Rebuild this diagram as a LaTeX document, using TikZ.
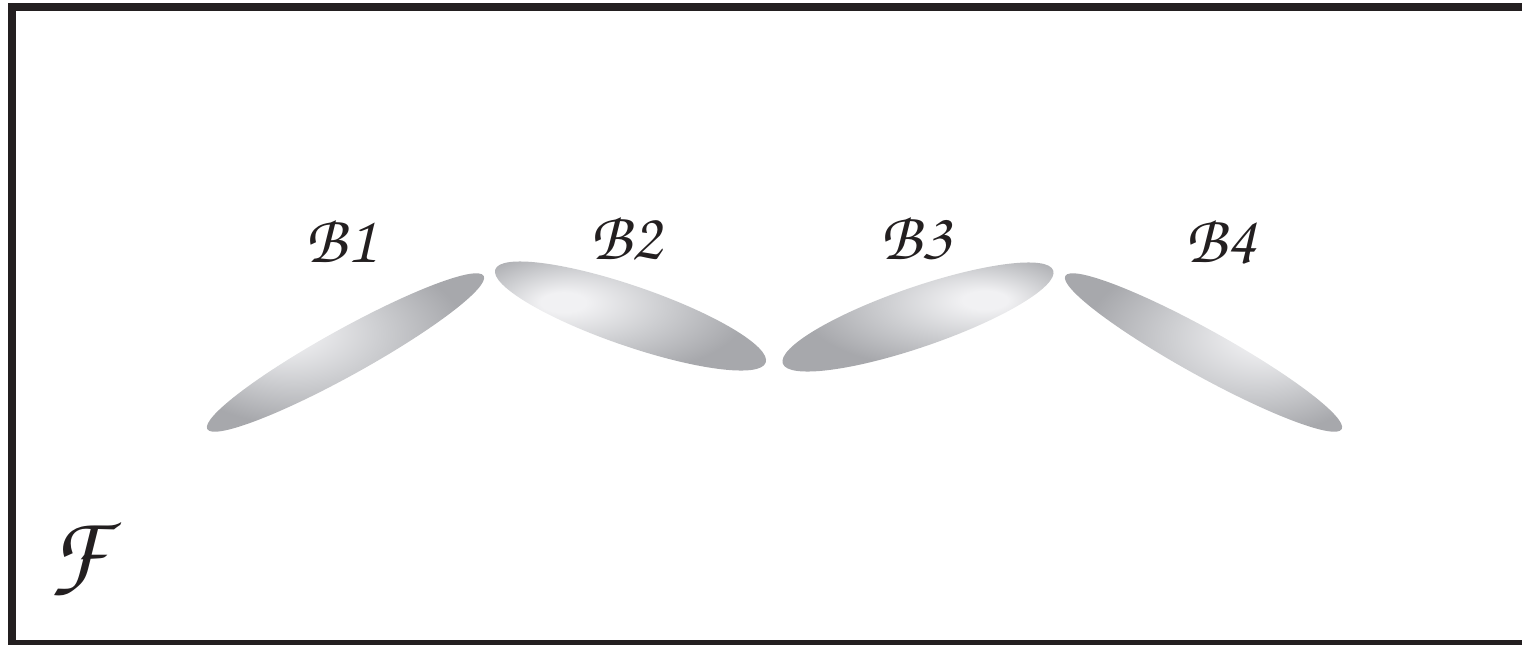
\documentclass[tikz,border=0pt]{standalone}
\usepackage[T1]{fontenc}
\usetikzlibrary{shapes.geometric}
\definecolor{ltg}{RGB}{241,241,243}
\definecolor{mdg}{RGB}{205,206,209}
\definecolor{dkg}{RGB}{167,168,172}
\definecolor{frm}{RGB}{35,31,32}
\pgfdeclareradialshading{hlw}{\pgfpoint{-13bp}{6bp}}{color(0bp)=(ltg); color(4bp)=(ltg); color(15bp)=(mdg); color(27bp)=(dkg); color(50bp)=(dkg)}
\pgfdeclareradialshading{hle}{\pgfpoint{13bp}{6bp}}{color(0bp)=(ltg); color(4bp)=(ltg); color(15bp)=(mdg); color(27bp)=(dkg); color(50bp)=(dkg)}
\begin{document}
\begin{tikzpicture}[x=0.5pt,y=-0.5pt,
  blob/.style={ellipse, inner sep=0pt, draw=none},
  lab/.style={font={\fontfamily{pzc}\fontsize{34}{40}\selectfont}, text=frm, anchor=base, inner sep=0pt},
  biglab/.style={font={\fontfamily{pzc}\fontsize{50}{60}\selectfont}, text=frm, anchor=base west, inner sep=0pt}]
\useasboundingbox (0,0) rectangle (1522,644);
\clip (0,0) rectangle (1522,644);
\draw[frm, line width=4pt] (11.5,7) rectangle (1560,644);
\node[blob, shading=hlw, rotate=29, minimum width=158pt, minimum height=23pt] (e1) at (345.5,352.5) {};
\node[blob, shading=hlw, rotate=-19, minimum width=143pt, minimum height=30pt] (e2) at (630.5,316) {};
\node[blob, shading=hle, rotate=19, minimum width=143pt, minimum height=30pt] (e3) at (918,317) {};
\node[blob, shading=hle, rotate=-29, minimum width=158pt, minimum height=23pt] (e4) at (1203.5,352.5) {};
\node[lab] (l1) at (341,262) {B1};
\node[lab] (l2) at (626,259) {B2};
\node[lab] (l3) at (916,259) {B3};
\node[lab] (l4) at (1221,262) {B4};
\node[biglab] (lf) at (48,584) {F};
\end{tikzpicture}
\end{document}
